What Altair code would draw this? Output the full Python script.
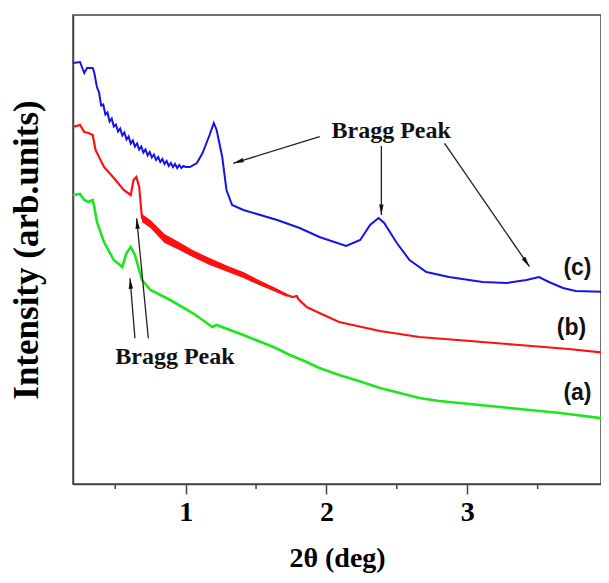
import math
import altair as alt
import pandas as pd

# ---------------- data ----------------
# 2theta (deg) and intensity (arbitrary units)
c_x = [0.20, 0.25, 0.28, 0.30, 0.34, 0.35, 0.37, 0.385, 0.40, 0.415, 0.43, 0.445, 0.46, 0.475,
       0.49, 0.505, 0.52, 0.535, 0.55, 0.565, 0.58, 0.595, 0.61, 0.625, 0.64, 0.655, 0.67,
       0.685, 0.70, 0.715, 0.73, 0.745, 0.76, 0.775, 0.79, 0.805, 0.82, 0.835, 0.85, 0.865,
       0.88, 0.895, 0.91, 0.925, 0.94, 0.955, 0.97, 0.985, 1.00, 1.03, 1.08, 1.12, 1.17, 1.20,
       1.22, 1.26, 1.29, 1.33, 1.41, 1.65, 1.81, 1.95, 2.14, 2.24, 2.31, 2.37, 2.41, 2.50,
       2.59, 2.71, 2.87, 3.11, 3.28, 3.42, 3.51, 3.58, 3.68, 3.77, 3.98, 4.00]
c_y = [421, 422, 411, 416, 416, 412, 397, 390, 380, 378, 371, 370, 364, 364,
       359, 358, 354, 354, 350, 350, 346, 346, 342, 342, 339, 339, 336,
       336, 333, 333, 330, 330.5, 328, 328, 325.5, 325.5, 323.5, 323.5, 321.5, 321.5,
       319.5, 319.5, 318.5, 318.5, 317.5, 317.5, 317, 317, 317, 317, 321, 331, 349, 361,
       354, 327, 294, 279, 274, 264, 256, 247, 238, 244, 259, 266, 261, 241,
       224, 212, 207, 202, 201, 204, 207, 202, 196, 193, 192, 192]
# small ripple offsets seen on curve (c) (alternating, in intensity units)
c_ripple = [0, 0, 0, 0, 0, 0, 0, 1.5, -1.5, 1.5, -1.5, 1.5, -1.5, 1.5,
            -1.5, 1.5, -1.5, 1.5, -1.5, 1.5, -1.5, 1.5, -1.5, 1.5, -1.5, 1.5, -1.5,
            1.5, -1.5, 1.5, -1.5, 1.5, -1.5, 1.5, -1.5, 1.5, -1.5, 1.5, -1.5, 1.5,
            -1.5, 1.5, -1.5, 1.5, -1.5, 1.5, -1, 1, 0, 0, 0, 0, 0, 0,
            0, 0, 0, 0, 0, 0, 0, 0, 0, 0, 0, 0, 0, 0,
            0, 0, 0, 0, 0, 0, 0, 0, 0, 0, 0, 0]

b_x = [0.20, 0.25, 0.28, 0.31, 0.34, 0.36, 0.42, 0.49, 0.56, 0.61, 0.63, 0.65, 0.67, 0.69,
       0.75, 0.85, 0.94, 1.05, 1.17, 1.30, 1.41, 1.52, 1.64, 1.72, 1.76, 1.79, 1.80, 1.86,
       1.95, 2.09, 2.38, 2.66, 3.02, 3.37, 3.72, 4.00]
b_y = [357, 359, 352, 351, 349, 334, 317, 306, 294, 289, 304, 307, 297, 266,
       260, 246, 239, 231, 222, 215, 209, 202, 194, 189, 187, 188, 185, 177,
       171, 162, 153, 147, 143, 139, 135, 131]
b_band_x = [0.69, 0.75, 0.85, 0.94, 1.05, 1.17, 1.30, 1.41, 1.52, 1.64, 1.72]
b_band_hi = [270, 264, 250, 243, 234, 226, 218, 212, 204, 196, 190]
b_band_lo = [262, 256, 241, 235, 227, 219, 212, 206, 199, 192, 187]

a_x = [0.20, 0.25, 0.28, 0.31, 0.34, 0.35, 0.37, 0.42, 0.49, 0.55, 0.58, 0.61, 0.64, 0.69,
       0.75, 0.89, 1.05, 1.15, 1.19, 1.22, 1.41, 1.64, 1.74, 1.86, 1.95, 2.09, 2.23, 2.38,
       2.52, 2.66, 2.80, 3.09, 3.37, 3.66, 4.00]
a_y = [289, 290, 284, 282, 284, 278, 262, 242, 224, 217, 231, 237, 229, 204,
       194, 184, 171, 161, 157, 159, 149, 136, 129, 122, 116, 109, 103, 96,
       91, 86, 83, 79, 75, 71, 65]

x_ticks = [1, 2, 3]
x_minor = [0.5, 1.5, 2.5, 3.5]

peak_text = ["Bragg Peak", "Bragg Peak"]
peak_text_x = [2.46, 0.924]
peak_text_y = [353, 127]

arrow_x1 = [1.952, 2.39, 2.839, 0.640, 0.735]
arrow_y1 = [347.3, 338.0, 340.7, 145.7, 145.7]
arrow_x2 = [1.338, 2.39, 3.442, 0.605, 0.652]
arrow_y2 = [320.7, 269.0, 217.3, 205.7, 265.7]

series_labels = ["(c)", "(b)", "(a)"]
series_label_x = [3.783, 3.74, 3.783]
series_label_y = [216, 156, 91]

# ---------------- chart ----------------
W, H = 528, 469
XMIN, XMAX = 0.2, 3.95
YMIN, YMAX = 0, 469

serif = "Liberation Serif"
sans = "Liberation Sans"

xscale = alt.Scale(domain=[XMIN, XMAX], nice=False, zero=False)
yscale = alt.Scale(domain=[YMIN, YMAX], nice=False, zero=False)

xaxis = alt.Axis(values=x_ticks, format="d", title="2θ (deg)", grid=False,
                 labelFont=serif, labelFontWeight="bold", labelFontSize=28, labelColor="black",
                 labelPadding=4, tickSize=10, tickWidth=1.5, tickColor="#444",
                 domainColor="#444", domainWidth=1.5,
                 titleFont=serif, titleFontWeight="bold", titleFontSize=28, titleColor="black",
                 titlePadding=18, labelFlush=False)
yaxis = alt.Axis(labels=False, ticks=False, grid=False, title="Intensity (arb.units)",
                 domainColor="#444", domainWidth=1.5,
                 titleFont=serif, titleFontWeight="bold", titleFontSize=35, titleColor="black",
                 titlePadding=29)


def X(field="x"):
    return alt.X(f"{field}:Q", scale=xscale, axis=xaxis)


def Y(field="y"):
    return alt.Y(f"{field}:Q", scale=yscale, axis=yaxis)


df_c = pd.DataFrame({"x": c_x, "y": [v + r for v, r in zip(c_y, c_ripple)]})
df_b = pd.DataFrame({"x": b_x, "y": b_y})
df_a = pd.DataFrame({"x": a_x, "y": a_y})
df_band = pd.DataFrame({"x": b_band_x, "y": b_band_hi, "y2": b_band_lo})

blue, red, green = "#1414e6", "#ff1010", "#1ee61e"

line_c = alt.Chart(df_c).mark_line(color=blue, strokeWidth=2, clip=True).encode(x=X(), y=Y())
line_b = alt.Chart(df_b).mark_line(color=red, strokeWidth=2.2, clip=True).encode(x=X(), y=Y())
band_b = alt.Chart(df_band).mark_area(color=red, opacity=1).encode(x=X(), y=Y(), y2="y2:Q")
line_a = alt.Chart(df_a).mark_line(color=green, strokeWidth=2.6, clip=True).encode(x=X(), y=Y())

# minor ticks
df_minor = pd.DataFrame({"x": x_minor, "y": [YMIN] * len(x_minor), "y2": [YMIN - 5] * len(x_minor)})
minor = alt.Chart(df_minor).mark_rule(color="#444", strokeWidth=1.5).encode(x=X(), y=Y(), y2="y2:Q")

# arrows
px_per_x = W / (XMAX - XMIN)
px_per_y = H / (YMAX - YMIN)
angles = []
for x1, y1, x2, y2 in zip(arrow_x1, arrow_y1, arrow_x2, arrow_y2):
    dx = (x2 - x1) * px_per_x
    dy = -(y2 - y1) * px_per_y
    ang = math.degrees(math.atan2(dx, -dy)) % 360
    angles.append(ang)

df_arrows = pd.DataFrame({"x": arrow_x1, "y": arrow_y1, "x2": arrow_x2, "y2": arrow_y2})
df_heads = pd.DataFrame({"x": arrow_x2, "y": arrow_y2, "angle": angles})

arrow_lines = alt.Chart(df_arrows).mark_rule(color="#222", strokeWidth=1.3).encode(
    x=X(), y=Y(), x2="x2:Q", y2="y2:Q")
arrow_heads = alt.Chart(df_heads).mark_point(
    shape="M0,0L0.42,2L-0.42,2Z", filled=True, color="#111", opacity=1, size=110,
).encode(x=X(), y=Y(), angle=alt.Angle("angle:Q", scale=None))

df_ptext = pd.DataFrame({"x": peak_text_x, "y": peak_text_y, "t": peak_text})
ptext = alt.Chart(df_ptext).mark_text(font=serif, fontWeight="bold", fontSize=24, color="#111",
                                      align="center", baseline="middle").encode(
    x=X(), y=Y(), text="t:N")

df_slab = pd.DataFrame({"x": series_label_x, "y": series_label_y, "t": series_labels})
slab = alt.Chart(df_slab).mark_text(font=sans, fontWeight="bold", fontSize=23, color="#111",
                                    align="center", baseline="middle").encode(
    x=X(), y=Y(), text="t:N")

chart = alt.layer(
    band_b, line_a, line_b, line_c, minor, arrow_lines, arrow_heads, ptext, slab
).properties(
    width=W, height=H,
    autosize=alt.AutoSizeParams(type="none"),
    padding={"left": 65, "top": 7, "right": 0, "bottom": 91},
    background="white",
).configure_view(stroke="#444", strokeWidth=1.5)

chart.save("out.html", embed_options={"renderer": "svg", "actions": False})
